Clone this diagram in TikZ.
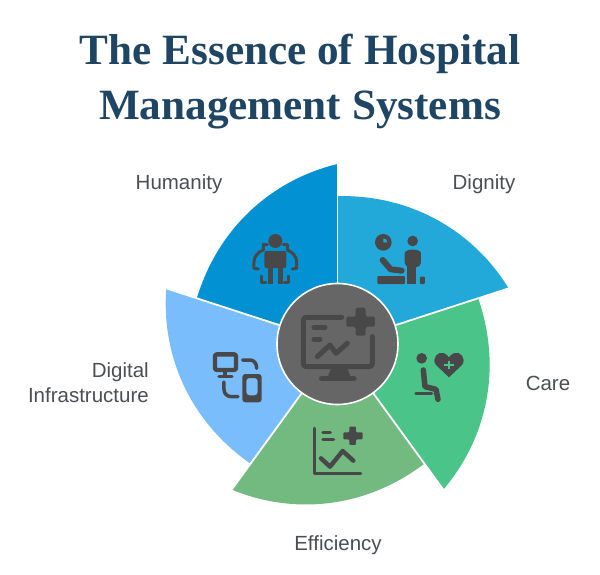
\documentclass[tikz,border=0pt]{standalone}
\usepackage{fontspec}
\setmainfont{Liberation Serif}
\newfontfamily\labelfont{Liberation Sans}
\definecolor{titleblue}{HTML}{1F4564}
\definecolor{labelgray}{HTML}{4A4F54}
\definecolor{icongray}{HTML}{484848}
\definecolor{hubgray}{HTML}{666666}
\definecolor{humanity}{HTML}{0292D3}
\definecolor{dignity}{HTML}{22A9DA}
\definecolor{care}{HTML}{4AC488}
\definecolor{efficiency}{HTML}{72BA80}
\definecolor{digital}{HTML}{7ABDFD}
\tikzset{
	lab/.style={font=\labelfont\fontsize{20.5}{25}\selectfont, text=labelgray, inner sep=0pt},
	iconline/.style={draw=icongray, line width=#1, line cap=round, line join=round},
	iconline/.default=3.5pt,
}
\begin{document}
\begin{tikzpicture}[x=1pt,y=1pt]
	\useasboundingbox (-337.5,-230) rectangle (262.5,344);
	\node[font=\fontsize{43.2}{55}\selectfont\bfseries, text=titleblue, align=center, inner sep=0pt] (title) at (-37.5,262.5) {The Essence of Hospital\\Management Systems};
	% wedges
	\foreach \a/\col in {90/dignity,18/care,-54/efficiency,-126/digital,162/humanity}{
		\fill[color=\col] (0,0) -- plot[domain=0:72,samples=40] ({\a-\x}:{148+32*(\x/72)^1.7}) -- cycle;
	}
	\foreach \a in {90,18,-54,-126,162}{
		\draw[white, line width=1.8pt] (0,0) -- (\a:181);
	}
	\node[circle, fill=hubgray, draw=white, line width=1.6pt, minimum size=121pt, inner sep=0pt] (hub) at (0,0) {};
	% labels
	\node[lab] (humanitylab) at (-158.5,159.5) {Humanity};
	\node[lab] (dignitylab) at (146.5,159.5) {Dignity};
	\node[lab] (carelab) at (210.5,-39) {Care};
	\node[lab] (efficiencylab) at (0.5,-201) {Efficiency};
	\node[lab, align=right, anchor=east] (digitallab) at (-188.5,-38.5) {Digital\\Infrastructure};
	% icons
	\begin{scope}[x=1pt/3,y=-1pt/3,shift={(-187.5pt,194pt)}]
		% humanity
		\fill[icongray] (376,273) circle[radius=21];
		\fill[icongray, rounded corners=2pt] (343,303) rectangle (409,354);
		\draw[iconline=5.5pt, line cap=butt] (361,345) -- (361,402) (391,345) -- (391,402);
		\draw[iconline=3pt] (352,284) -- (340,284) -- (340,300) .. controls (325,305) and (312,320) .. (312,335) -- (312,355) -- (325,357);
		\draw[iconline=3pt] (400,284) -- (412,284) -- (412,300) .. controls (427,305) and (440,320) .. (440,335) -- (440,355) -- (427,357);
		\draw[iconline=3pt] (335,378) -- (335,398) -- (348,398) (416,378) -- (416,398) -- (403,398);
		% dignity
		\fill[icongray] (700,277) circle[radius=25];
		\fill[dignity] (700,277) -- (700,265) arc[start angle=-90,end angle=0,radius=12] -- cycle;
		\fill[icongray] (788,273) circle[radius=16];
		\fill[icongray, rounded corners=5pt] (764,352) -- (764,325) .. controls (764,295) and (813,295) .. (813,325) -- (813,352) -- cycle;
		\fill[icongray] (772,345) rectangle (797,402);
		\draw[iconline=6pt] (698,330) -- (722,358) -- (755,362);
		\fill[icongray, rounded corners=1pt] (682,378) rectangle (765,402);
		\fill[icongray, rounded corners=1pt] (810,380) rectangle (825,402);
		% care
		\fill[icongray] (815,625) circle[radius=16];
		\draw[iconline=5.5pt] (820,660) -- (825,710) -- (858,718) -- (864,748);
		\draw[iconline=3.5pt] (798,731) -- (845,731);
		\fill[icongray] (897,682) -- (858,645) .. controls (843,625) and (865,603) .. (880,609) .. controls (890,612) and (895,620) .. (897,622) .. controls (899,620) and (904,612) .. (914,609) .. controls (929,603) and (951,625) .. (936,645) -- cycle;
		\draw[care, line width=2.4pt] (882,645) -- (912,645) (897,632) -- (897,658);
		% efficiency
		\draw[iconline=3.5pt] (493,835) -- (493,970) -- (632,970);
		\draw[iconline=3.2pt] (519,847) -- (541,847) (519,868) -- (551,868);
		\draw[iconline=4.4pt] (513,925) -- (540,950) -- (578,903) -- (610,932);
		\fill[icongray, rounded corners=1pt] (598,830) -- (618,830) -- (618,847) -- (638,847) -- (638,868) -- (618,868) -- (618,885) -- (598,885) -- (598,868) -- (580,868) -- (580,847) -- (598,847) -- cycle;
		% digital infrastructure
		\draw[iconline=4.4pt, rounded corners=2pt] (195,613) rectangle (258,660);
		\draw[iconline=3.5pt] (225,662) -- (225,678) (207,679) -- (246,679);
		\draw[iconline=3.5pt] (278,630) -- (300,630) .. controls (312,630) and (320,640) .. (320,655);
		\draw[iconline=3.5pt] (222,696) -- (222,718) .. controls (222,732) and (232,740) .. (245,740) -- (264,740);
		\fill[icongray, rounded corners=3pt, even odd rule] (277,672) rectangle (335,757) (289,684) rectangle (323,736);
		% hub monitor
		\draw[iconline=5pt, rounded corners=3pt] (575,502) -- (460,502) -- (460,650) -- (667,650) -- (667,560);
		\fill[icongray] (545,650) -- (590,650) -- (602,682) -- (533,682) -- cycle;
		\draw[iconline=5.4pt] (515,686) -- (612,686);
		\draw[iconline=5pt] (492,533) -- (525,533) (492,568) -- (510,568);
		\draw[iconline=5pt] (502,620) -- (540,585) -- (558,610) -- (592,580);
		\fill[icongray, rounded corners=1.5pt] (617,473) -- (647,473) -- (647,500) -- (675,500) -- (675,530) -- (647,530) -- (647,557) -- (617,557) -- (617,530) -- (589,530) -- (589,500) -- (617,500) -- cycle;
	\end{scope}
\end{tikzpicture}
\end{document}
